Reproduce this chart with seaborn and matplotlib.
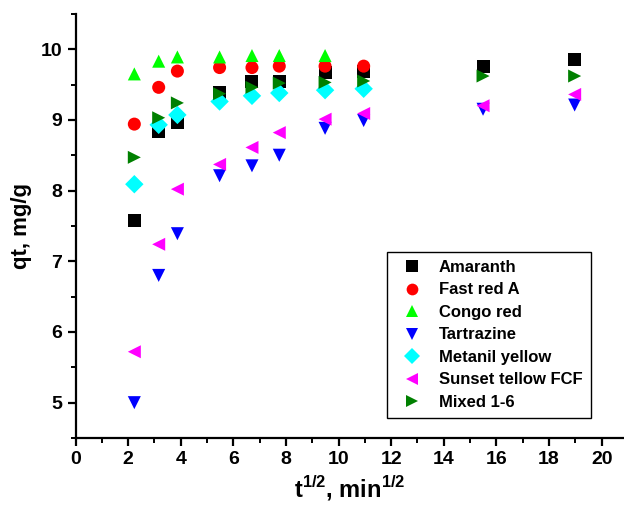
import numpy as np
import pandas as pd
import matplotlib
matplotlib.use("Agg")
import matplotlib.pyplot as plt
import seaborn as sns
from matplotlib.ticker import MultipleLocator

# square root of contact time, min^(1/2)
t_sqrt = [2.236, 3.162, 3.873, 5.477, 6.708, 7.746, 9.487, 10.954, 15.492, 18.974]

amaranth = [7.58, 8.84, 8.97, 9.39, 9.54, 9.54, 9.67, 9.69, 9.75, 9.85]
fast_red_a = [8.94, 9.46, 9.69, 9.74, 9.74, 9.76, 9.76, 9.76]
congo_red = [9.65, 9.83, 9.89, 9.89, 9.91, 9.91, 9.91]
tartrazine = [5.00, 6.80, 7.39, 8.21, 8.35, 8.50, 8.88, 8.99, 9.15, 9.21]
metanil_yellow = [8.09, 8.93, 9.07, 9.26, 9.34, 9.38, 9.42, 9.44]
sunset_yellow = [5.72, 7.24, 8.02, 8.37, 8.61, 8.82, 9.01, 9.09, 9.20, 9.36]
mixed = [8.47, 9.03, 9.24, 9.37, 9.46, 9.52, 9.53, 9.55, 9.62, 9.62]

series = {
    "Amaranth": amaranth,
    "Fast red A": fast_red_a,
    "Congo red": congo_red,
    "Tartrazine": tartrazine,
    "Metanil yellow": metanil_yellow,
    "Sunset tellow FCF": sunset_yellow,
    "Mixed 1-6": mixed,
}
colors = ["#000000", "#ff0000", "#00ff00", "#0000ff", "#00ffff", "#ff00ff", "#008000"]
markers = ["s", "o", "^", "v", "D", "<", ">"]

rows = []
for name, vals in series.items():
    for x, y in zip(t_sqrt, vals):
        rows.append({"t": x, "qt": y, "dye": name})
df = pd.DataFrame(rows)

sns.set_style("ticks")
plt.rcParams["font.family"] = ["Liberation Sans", "DejaVu Sans"]
plt.rcParams["font.weight"] = "bold"
plt.rcParams["text.color"] = "black"
plt.rcParams["axes.labelcolor"] = "black"
plt.rcParams["mathtext.fontset"] = "custom"
plt.rcParams["mathtext.rm"] = "Liberation Sans:bold"
plt.rcParams["mathtext.bf"] = "Liberation Sans:bold"

fig = plt.figure(figsize=(6.24, 5.12), dpi=100)
ax = fig.add_axes([0.121, 0.1445, 0.879, 0.8285])

names = list(series.keys())
sns.scatterplot(
    data=df, x="t", y="qt", hue="dye", style="dye",
    hue_order=names, style_order=names,
    palette=dict(zip(names, colors)), markers=dict(zip(names, markers)),
    s=88, linewidth=0, ax=ax, zorder=3,
)

ax.set_xlim(0, 20.85)
ax.set_ylim(4.5, 10.5)
ax.xaxis.set_major_locator(MultipleLocator(2))
ax.xaxis.set_minor_locator(MultipleLocator(1))
ax.yaxis.set_major_locator(MultipleLocator(1))
ax.yaxis.set_minor_locator(MultipleLocator(0.5))
ax.set_yticks([5, 6, 7, 8, 9, 10])

for side in ["top", "right"]:
    ax.spines[side].set_visible(False)
for side in ["left", "bottom"]:
    ax.spines[side].set_linewidth(1.6)
    ax.spines[side].set_color("black")

ax.tick_params(which="major", direction="out", length=6, width=1.6, labelsize=14, colors="black")
ax.tick_params(which="minor", direction="out", length=3.5, width=1.4, colors="black")
for lab in ax.get_xticklabels() + ax.get_yticklabels():
    lab.set_fontweight("bold")

ax.set_xlabel(r"t$^{\mathbf{1/2}}$, min$^{\mathbf{1/2}}$", fontsize=17, fontweight="bold", labelpad=4)
ax.set_ylabel("qt, mg/g", fontsize=16, fontweight="bold", labelpad=6)

handles, labels = ax.get_legend_handles_labels()
ax.get_legend().remove()
leg = fig.legend(
    handles, labels, loc="upper left", bbox_to_anchor=(0.607, 0.525),
    prop={"weight": "bold", "size": 12}, frameon=True, fancybox=False,
    edgecolor="black", framealpha=1, borderpad=0.5, labelspacing=0.45,
    handletextpad=0.6, markerscale=0.9,
)
leg.get_frame().set_linewidth(1.0)
for txt in leg.get_texts():
    txt.set_color("black")

fig.savefig("out.png", dpi=100)
